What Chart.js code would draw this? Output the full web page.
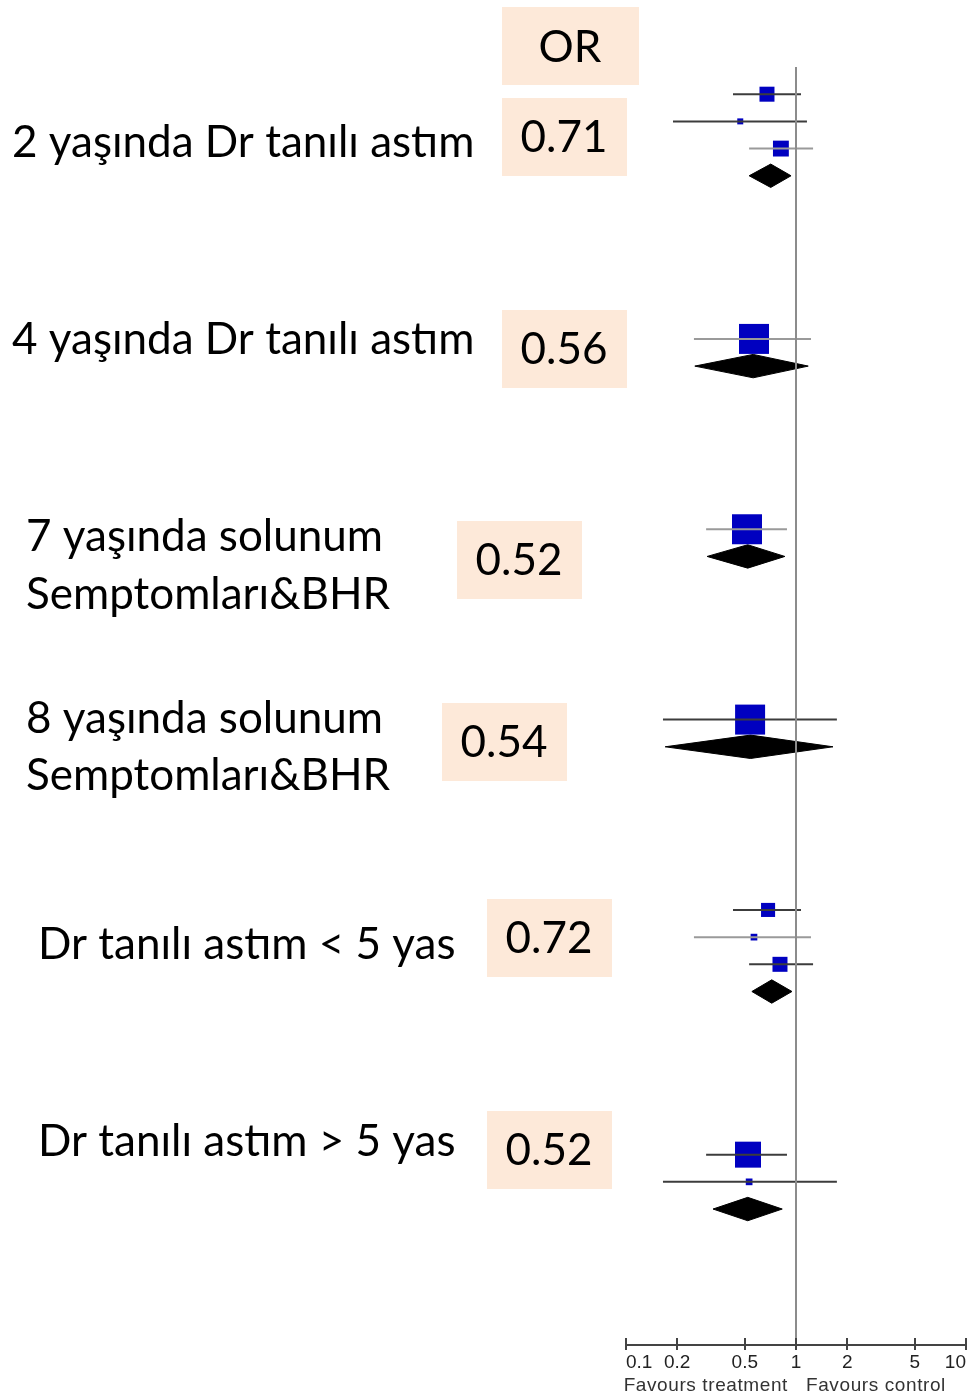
<!DOCTYPE html>
<html>
<head>
<meta charset="utf-8">
<script src="https://cdn.jsdelivr.net/npm/chart.js@4.4.1/dist/chart.umd.min.js"></script>
<style>
  html, body { margin: 0; padding: 0; background: #fff; overflow: hidden; }
  canvas { display: block; }
</style>
</head>
<body>
<canvas id="forestChart" width="990" height="1396"></canvas>
<script>
// left column: outcome groups and pooled OR shown in the boxes
var groupLabels = [
    ["2 yaşında Dr tanılı astım"],
    ["4 yaşında Dr tanılı astım"],
    ["7 yaşında solunum", "Semptomları&BHR"],
    ["8 yaşında solunum", "Semptomları&BHR"],
    ["Dr tanılı astım < 5 yas"],
    ["Dr tanılı astım > 5 yas"]
];
var orLabels = ["0.71", "0.56", "0.52", "0.54", "0.72", "0.52"];

// single studies (row = position on the y scale, top to bottom)
var studyRow    = [1, 2, 3, 10, 17, 24, 31, 32, 33, 40, 41];
var studyOR     = [0.675, 0.47, 0.815, 0.566, 0.515, 0.537, 0.685, 0.566, 0.805, 0.522, 0.53];
var studyLow    = [0.426, 0.189, 0.53, 0.251, 0.296, 0.165, 0.426, 0.251, 0.53, 0.296, 0.165];
var studyHigh   = [1.07, 1.16, 1.26, 1.225, 0.885, 1.74, 1.07, 1.225, 1.26, 0.885, 1.74];
var studyWeight = [25, 4, 28, 100, 100, 100, 22, 5, 25, 75, 5];

// pooled estimates (diamonds)
var pooledRow  = [4, 11, 18, 25, 34, 42];
var pooledOR   = [0.71, 0.56, 0.52, 0.54, 0.72, 0.52];
var pooledLow  = [0.53, 0.254, 0.30, 0.17, 0.55, 0.325];
var pooledHigh = [0.935, 1.18, 0.86, 1.65, 0.947, 0.83];

// x axis
var xTicks = [0.1, 0.2, 0.5, 1, 2, 5, 10];

var lightLines = [2, 3, 4, 7]; // CI lines drawn in lighter grey
var TEXT_FONT = '"Lato", "Open Sans", sans-serif';
var AXIS_FONT = '"Liberation Sans", sans-serif';
var BOX_COLOR = '#fde9d9';

var datasets = [];

// line of no effect
datasets.push({
    data: [{x: 1, y: 0}, {x: 1, y: 47}],
    showLine: true,
    borderColor: '#8c8c8c',
    borderWidth: 2,
    pointRadius: 0
});

// confidence intervals
studyRow.forEach(function(r, i) {
    datasets.push({
        data: [{x: studyLow[i], y: r}, {x: studyHigh[i], y: r}],
        showLine: true,
        borderColor: lightLines.indexOf(i) >= 0 ? '#9a9a9a' : '#3c3c3c',
        borderWidth: 2,
        pointRadius: 0
    });
});

// study squares, size from weight
datasets.push({
    data: studyRow.map(function(r, i) { return {x: studyOR[i], y: r}; }),
    pointStyle: 'rect',
    pointRadius: studyWeight.map(function(w) { return 30 * Math.sqrt(w / 100) / (2 * Math.SQRT1_2); }),
    backgroundColor: '#0000c0',
    borderWidth: 0
});

// pooled diamonds
pooledRow.forEach(function(r, i) {
    var h = 0.43;
    datasets.push({
        data: [
            {x: pooledLow[i], y: r},
            {x: pooledOR[i], y: r - h},
            {x: pooledHigh[i], y: r},
            {x: pooledOR[i], y: r + h},
            {x: pooledLow[i], y: r}
        ],
        showLine: true,
        fill: 'shape',
        backgroundColor: '#000',
        borderColor: '#000',
        borderWidth: 1,
        pointRadius: 0,
        tension: 0
    });
});

// text column + boxes on the left, extra axis decorations
var sidePlugin = {
    id: 'side',
    beforeDraw: function(chart) {
        var ctx = chart.ctx;
        var labelPos = [[12, [143]], [12, [340]], [26, [537, 595]], [26, [719, 776]], [38, [945]], [38, [1142]]];
        var boxPos = [[502, 98], [502, 310], [457, 521], [442, 703], [487, 899], [487, 1111]];
        ctx.save();
        ctx.textBaseline = 'middle';
        ctx.font = '44px ' + TEXT_FONT;
        ctx.fillStyle = '#000';
        ctx.textAlign = 'left';
        groupLabels.forEach(function(lines, g) {
            lines.forEach(function(t, k) {
                ctx.fillText(t, labelPos[g][0], labelPos[g][1][k]);
            });
        });
        // header box
        ctx.fillStyle = BOX_COLOR;
        ctx.fillRect(502, 7, 137, 78);
        ctx.fillStyle = '#000';
        ctx.textAlign = 'center';
        ctx.fillText('OR', 570, 48);
        orLabels.forEach(function(t, g) {
            var bx = boxPos[g][0], by = boxPos[g][1];
            ctx.fillStyle = BOX_COLOR;
            ctx.fillRect(bx, by, 125, 78);
            ctx.fillStyle = '#000';
            ctx.fillText(t, bx + 62, by + 40);
        });
        ctx.restore();
    },
    afterDraw: function(chart) {
        var ctx = chart.ctx;
        var xs = chart.scales.x;
        var bottom = chart.chartArea.bottom;
        ctx.save();
        ctx.strokeStyle = '#444';
        ctx.lineWidth = 2;
        xTicks.forEach(function(v) {
            var px = Math.round(xs.getPixelForValue(v));
            ctx.beginPath();
            ctx.moveTo(px, bottom - 7);
            ctx.lineTo(px, bottom);
            ctx.stroke();
        });
        var p1 = xs.getPixelForValue(1);
        ctx.fillStyle = '#333';
        ctx.font = '19px ' + AXIS_FONT;
        if ('letterSpacing' in ctx) ctx.letterSpacing = '0.6px';
        ctx.textBaseline = 'middle';
        ctx.textAlign = 'right';
        ctx.fillText('Favours treatment', p1 - 8, 1386);
        ctx.textAlign = 'left';
        ctx.fillText('Favours control', p1 + 10, 1386);
        ctx.restore();
    }
};

window.onload = function() {
    var ctx = document.getElementById('forestChart').getContext('2d');
    window.forest = new Chart(ctx, {
        type: 'scatter',
        data: { datasets: datasets },
        plugins: [sidePlugin],
        options: {
            responsive: false,
            animation: false,
            events: [],
            layout: { padding: { left: 626, right: 24, top: 67, bottom: 0 } },
            plugins: {
                legend: { display: false },
                tooltip: { enabled: false }
            },
            scales: {
                x: {
                    type: 'logarithmic',
                    min: 0.1,
                    max: 10,
                    afterBuildTicks: function(scale) {
                        scale.ticks = xTicks.map(function(v) { return {value: v}; });
                    },
                    afterFit: function(scale) { scale.height = 51; },
                    ticks: {
                        align: 'inner',
                        autoSkip: false,
                        maxRotation: 0,
                        padding: 1,
                        color: '#222',
                        font: { family: AXIS_FONT, size: 19 },
                        callback: function(v) { return String(v); }
                    },
                    grid: {
                        drawOnChartArea: false,
                        drawTicks: true,
                        tickLength: 5,
                        color: '#444',
                        lineWidth: 2
                    },
                    border: { display: true, color: '#444', width: 2 }
                },
                y: {
                    type: 'linear',
                    min: 0,
                    max: 47,
                    reverse: true,
                    display: false
                }
            }
        }
    });
};
</script>
</body>
</html>
